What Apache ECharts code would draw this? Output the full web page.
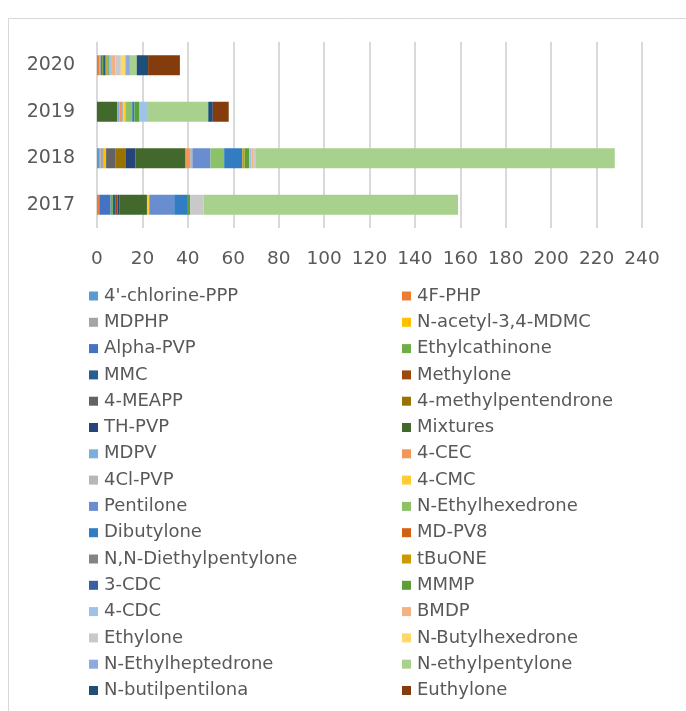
<!DOCTYPE html>
<html>
<head>
<meta charset="utf-8">
<script src="https://cdn.jsdelivr.net/npm/echarts@6/dist/echarts.min.js"></script>
<style>
  html, body { margin: 0; padding: 0; background: #fff; }
  #chart { width: 686px; height: 711px; }
</style>
</head>
<body>
<div id="chart"></div>
<script>
// years on the category axis (bottom to top)
var years = ['2017', '2018', '2019', '2020']
var xTicks = [0, 20, 40, 60, 80, 100, 120, 140, 160, 180, 200, 220, 240]

// substances, in legend order
var names = [
  "4'-chlorine-PPP", '4F-PHP', 'MDPHP', 'N-acetyl-3,4-MDMC', 'Alpha-PVP', 'Ethylcathinone',
  'MMC', 'Methylone', '4-MEAPP', '4-methylpentendrone', 'TH-PVP', 'Mixtures',
  'MDPV', '4-CEC', '4Cl-PVP', '4-CMC', 'Pentilone', 'N-Ethylhexedrone',
  'Dibutylone', 'MD-PV8', 'N,N-Diethylpentylone', 'tBuONE', '3-CDC', 'MMMP',
  '4-CDC', 'BMDP', 'Ethylone', 'N-Butylhexedrone', 'N-Ethylheptedrone', 'N-ethylpentylone',
  'N-butilpentilona', 'Euthylone'
]

// counts per year, same order as names
var v2017 = [0, 1, 0, 0, 5, 1, 1, 1, 0, 0, 1, 12, 0, 0, 0, 1, 11, 0, 6, 0, 0, 0, 0, 1, 0, 0, 6, 0, 0, 112, 0, 0]
var v2018 = [1, 0.5, 1.5, 1, 0, 0, 0, 0, 4, 4.5, 4.5, 22, 0, 2, 1, 0, 8, 6, 8, 0, 0, 1, 0, 2, 1, 1, 1, 0, 0, 158, 0, 0]
var v2019 = [0, 0, 0, 0, 0, 0, 0, 0, 0, 0, 0, 9, 1, 1, 0.5, 1, 0, 3, 1, 0, 0, 0, 0, 2, 3.5, 0, 0, 0, 0, 27, 2, 7]
var v2020 = [0, 1, 0.7, 0, 0.5, 0.5, 1, 0, 0, 0.5, 0, 0, 0, 0, 0, 0, 0, 0, 0, 0, 0, 0.5, 0, 0.5, 1, 2, 2.3, 2, 2, 3, 5, 14]

// office palette
var colors = [
  '#5B9BD5', '#ED7D31', '#A5A5A5', '#FFC000', '#4472C4', '#70AD47',
  '#255E91', '#9E480E', '#636363', '#997300', '#264478', '#43682B',
  '#7CAFDD', '#F1975A', '#B7B7B7', '#FFCD33', '#698ED0', '#8CC168',
  '#327DC2', '#D26012', '#848484', '#CC9A00', '#3A5FA0', '#5E9E37',
  '#9DC3E6', '#F4B183', '#C9C9C9', '#FFD966', '#8FAADC', '#A9D18E',
  '#1F4E79', '#843C0C'
]

var txt = '#595959'
var font = 'DejaVu Sans'

var series = names.map(function (n, i) {
  return {
    name: n,
    type: 'bar',
    stack: 'total',
    barWidth: 20,
    itemStyle: { color: colors[i] },
    data: [v2017[i], v2018[i], v2019[i], v2020[i]]
  }
})

function legend (list, left) {
  return {
    data: list,
    orient: 'vertical',
    left: left,
    top: 281,
    icon: 'rect',
    itemWidth: 9,
    itemHeight: 9,
    itemGap: 6.3,
    selectedMode: false,
    textStyle: { color: txt, fontFamily: font, fontSize: 18, lineHeight: 20, padding: [0, 0, 0, 1] }
  }
}

// chart frame: only the top and left edges are inside the picture
var frame = { stroke: '#d9d9d9', lineWidth: 1 }

var myChart = echarts.init(document.getElementById('chart'))
myChart.setOption({
  animation: false,
  graphic: [
    { type: 'line', shape: { x1: 8.5, y1: 18.5, x2: 686, y2: 18.5 }, style: frame },
    { type: 'line', shape: { x1: 8.5, y1: 18.5, x2: 8.5, y2: 711 }, style: frame }
  ],
  legend: [
    legend(names.filter(function (n, i) { return i % 2 === 0 }), 84),
    legend(names.filter(function (n, i) { return i % 2 === 1 }), 397)
  ],
  grid: { left: 97, right: 44, top: 42, height: 186, containLabel: false },
  xAxis: {
    type: 'value',
    min: 0,
    max: 240,
    interval: 20,
    axisLine: { show: false },
    axisTick: { show: false },
    splitLine: { lineStyle: { color: '#d9d9d9', width: 2 } },
    axisLabel: {
      color: txt, fontFamily: font, fontSize: 18.5, margin: 22,
      formatter: function (v) { return xTicks.indexOf(v) >= 0 ? String(v) : '' }
    }
  },
  yAxis: {
    type: 'category',
    data: years,
    axisLine: { show: false },
    axisTick: { show: false },
    axisLabel: { color: txt, fontFamily: font, fontSize: 19, margin: 22 }
  },
  series: series
})
</script>
</body>
</html>
